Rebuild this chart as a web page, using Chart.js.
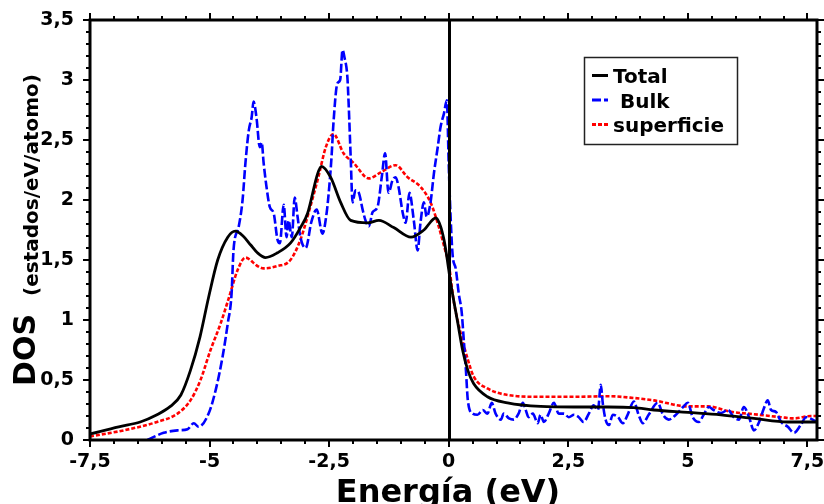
<!DOCTYPE html>
<html>
<head>
<meta charset="utf-8">
<script src="https://cdn.jsdelivr.net/npm/chart.js@4/dist/chart.umd.min.js"></script>
<style>
  html, body { margin: 0; padding: 0; background: #fff; }
  #dos { display: block; }
</style>
</head>
<body>
<canvas id="dos" width="824" height="504"></canvas>
<script>
// energies (eV) and DOS (estados/eV/atomo) for each curve
const energiaTotal = [-7.5, -6.9, -6.45, -6.1, -5.82, -5.6, -5.4, -5.2, -5.02, -4.83, -4.62, -4.46, -4.3, -4.14, -4.0, -3.83, -3.58, -3.31, -3.1, -2.95, -2.74, -2.66, -2.47, -2.26, -2.05, -1.69, -1.46, -1.15, -0.79, -0.52, -0.27, -0.17, -0.1, -0.06, 0.0, 0.04, 0.19, 0.29, 0.4, 0.52, 0.81, 1.23, 1.92, 2.62, 3.33, 3.87, 4.29, 5.0, 5.69, 6.38, 7.09, 7.7];
const dosTotal = [0.05, 0.11, 0.15, 0.21, 0.28, 0.375, 0.58, 0.86, 1.19, 1.5, 1.69, 1.74, 1.7, 1.625, 1.56, 1.52, 1.56, 1.64, 1.77, 1.89, 2.22, 2.28, 2.19, 1.98, 1.83, 1.81, 1.83, 1.77, 1.69, 1.75, 1.85, 1.78, 1.67, 1.58, 1.42, 1.31, 0.975, 0.75, 0.58, 0.47, 0.36, 0.31, 0.28, 0.275, 0.275, 0.27, 0.25, 0.23, 0.21, 0.18, 0.15, 0.15];

const energiaBulk = [-6.3, -5.96, -5.67, -5.46, -5.33, -5.23, -5.02, -4.87, -4.73, -4.62, -4.54, -4.5, -4.39, -4.31, -4.25, -4.18, -4.12, -4.08, -4.02, -3.95, -3.91, -3.87, -3.81, -3.74, -3.66, -3.58, -3.53, -3.45, -3.39, -3.35, -3.28, -3.22, -3.16, -3.1, -2.99, -2.87, -2.76, -2.64, -2.55, -2.5, -2.45, -2.41, -2.33, -2.27, -2.22, -2.18, -2.12, -2.09, -2.05, -2.01, -1.95, -1.88, -1.8, -1.74, -1.67, -1.59, -1.49, -1.4, -1.33, -1.26, -1.17, -1.11, -1.05, -0.96, -0.9, -0.82, -0.73, -0.65, -0.59, -0.52, -0.46, -0.38, -0.31, -0.23, -0.17, -0.1, -0.04, 0.0, 0.03, 0.08, 0.15, 0.21, 0.27, 0.31, 0.36, 0.4, 0.5, 0.6, 0.71, 0.81, 0.9, 0.98, 1.09, 1.15, 1.26, 1.36, 1.46, 1.55, 1.61, 1.67, 1.76, 1.86, 1.92, 1.99, 2.09, 2.2, 2.3, 2.41, 2.51, 2.62, 2.72, 2.82, 2.93, 3.03, 3.12, 3.18, 3.22, 3.28, 3.35, 3.43, 3.54, 3.64, 3.74, 3.87, 3.97, 4.06, 4.18, 4.37, 4.48, 4.6, 4.75, 4.9, 5.0, 5.1, 5.23, 5.33, 5.44, 5.54, 5.69, 5.84, 5.96, 6.07, 6.17, 6.28, 6.38, 6.49, 6.59, 6.67, 6.74, 6.84, 6.95, 7.09, 7.22, 7.36, 7.47, 7.61, 7.7];
const dosBulk = [0.0, 0.06, 0.08, 0.09, 0.14, 0.11, 0.22, 0.42, 0.69, 0.97, 1.22, 1.58, 1.78, 2.0, 2.31, 2.58, 2.69, 2.82, 2.69, 2.44, 2.48, 2.31, 2.11, 1.94, 1.89, 1.67, 1.64, 1.96, 1.69, 1.83, 1.69, 2.02, 1.86, 1.69, 1.6, 1.82, 1.92, 1.72, 1.9, 2.1, 2.36, 2.64, 2.97, 3.0, 3.25, 3.19, 3.03, 2.78, 2.36, 1.98, 2.08, 2.06, 1.92, 1.83, 1.78, 1.9, 1.94, 2.19, 2.39, 2.06, 2.17, 2.19, 2.11, 1.89, 1.81, 2.06, 1.83, 1.58, 1.81, 1.98, 1.86, 1.98, 2.22, 2.44, 2.61, 2.72, 2.83, 2.3, 1.95, 1.55, 1.42, 1.22, 1.07, 0.86, 0.58, 0.33, 0.22, 0.21, 0.25, 0.22, 0.31, 0.22, 0.17, 0.22, 0.18, 0.17, 0.22, 0.31, 0.25, 0.19, 0.22, 0.14, 0.21, 0.15, 0.22, 0.31, 0.22, 0.22, 0.19, 0.21, 0.19, 0.15, 0.22, 0.29, 0.25, 0.46, 0.31, 0.17, 0.125, 0.21, 0.19, 0.14, 0.21, 0.32, 0.21, 0.14, 0.21, 0.31, 0.21, 0.17, 0.21, 0.275, 0.31, 0.19, 0.15, 0.21, 0.275, 0.25, 0.225, 0.25, 0.19, 0.17, 0.275, 0.19, 0.08, 0.15, 0.265, 0.33, 0.25, 0.235, 0.15, 0.11, 0.06, 0.125, 0.19, 0.17, 0.15];

const energiaSup = [-7.5, -6.8, -6.1, -5.67, -5.4, -5.19, -4.98, -4.77, -4.6, -4.41, -4.25, -4.0, -3.87, -3.58, -3.31, -3.1, -2.89, -2.72, -2.57, -2.41, -2.2, -1.99, -1.67, -1.42, -1.11, -0.86, -0.59, -0.38, -0.21, -0.06, 0.0, 0.1, 0.25, 0.4, 0.52, 0.81, 1.23, 1.92, 2.62, 3.33, 3.87, 4.29, 5.0, 5.42, 5.9, 6.38, 6.95, 7.22, 7.57, 7.7];
const dosSup = [0.03, 0.08, 0.15, 0.22, 0.33, 0.5, 0.75, 0.97, 1.18, 1.42, 1.52, 1.45, 1.43, 1.45, 1.5, 1.67, 1.95, 2.2, 2.44, 2.55, 2.39, 2.31, 2.18, 2.23, 2.29, 2.19, 2.11, 1.98, 1.78, 1.56, 1.47, 1.17, 0.89, 0.67, 0.53, 0.43, 0.375, 0.36, 0.36, 0.365, 0.35, 0.33, 0.28, 0.28, 0.235, 0.215, 0.19, 0.18, 0.2, 0.2];

const xTickValues = [-7.5, -5, -2.5, 0, 2.5, 5, 7.5];
const yTickValues = [0, 0.5, 1, 1.5, 2, 2.5, 3, 3.5];

const FONT = '"DejaVu Sans", sans-serif';

function pts(xs, ys) {
  return xs.map((x, i) => ({ x: x, y: ys[i] }));
}

function coma(v) {
  return String(v).replace('.', ',');
}

// box, minor/major tick marks, zero line, axis titles and legend
const decor = {
  id: 'decor',
  afterDatasetsDraw(chart) {
    const ctx = chart.ctx;
    const a = chart.chartArea;
    const xs = chart.scales.x, ys = chart.scales.y;
    ctx.save();
    ctx.strokeStyle = '#000';

    // line at E = 0
    ctx.lineWidth = 3;
    const x0 = Math.round(xs.getPixelForValue(0)) + 0.5;
    ctx.beginPath();
    ctx.moveTo(x0, a.top);
    ctx.lineTo(x0, a.bottom);
    ctx.stroke();

    // frame
    ctx.strokeRect(a.left, a.top, a.right - a.left, a.bottom - a.top);

    // ticks on all four sides, pointing out
    ctx.lineWidth = 2;
    ctx.beginPath();
    for (let i = 0; i <= 35; i++) {
      const p = Math.round(ys.getPixelForValue(i / 10));
      const len = (i % 5 === 0) ? 7 : 4;
      ctx.moveTo(a.left, p); ctx.lineTo(a.left - len, p);
      ctx.moveTo(a.right, p); ctx.lineTo(a.right + len, p);
    }
    for (let i = -15; i <= 15; i++) {
      const p = Math.round(xs.getPixelForValue(i / 2));
      const len = (i % 5 === 0) ? 7 : 4;
      ctx.moveTo(p, a.bottom); ctx.lineTo(p, a.bottom + len);
      ctx.moveTo(p, a.top); ctx.lineTo(p, a.top - len);
    }
    ctx.stroke();

    // axis titles
    ctx.fillStyle = '#000';
    ctx.textAlign = 'center';
    ctx.textBaseline = 'alphabetic';
    ctx.font = 'bold 32px ' + FONT;
    ctx.fillText('Energía (eV)', 448, 502);

    ctx.save();
    ctx.translate(35, 350);
    ctx.rotate(-Math.PI / 2);
    ctx.font = 'bold 30px ' + FONT;
    ctx.fillText('DOS', 0, 0);
    ctx.restore();

    ctx.save();
    ctx.translate(38, 185);
    ctx.rotate(-Math.PI / 2);
    ctx.font = 'bold 20px ' + FONT;
    ctx.fillText('(estados/eV/atomo)', 0, 0);
    ctx.restore();

    // legend
    const bx = 584.5, by = 57.5, bw = 153, bh = 87;
    ctx.fillStyle = '#fff';
    ctx.fillRect(bx, by, bw, bh);
    ctx.lineWidth = 1.5;
    ctx.strokeStyle = '#222';
    ctx.strokeRect(bx, by, bw, bh);
    ctx.font = 'bold 20px ' + FONT;
    ctx.textAlign = 'left';
    chart.data.datasets.forEach((ds, i) => {
      const base = 83 + i * 24.5;
      const ly = base - 7.5;
      ctx.strokeStyle = ds.borderColor;
      ctx.lineWidth = 3;
      ctx.setLineDash(ds.borderDash || []);
      ctx.beginPath();
      ctx.moveTo(592, ly);
      ctx.lineTo(608, ly);
      ctx.stroke();
      ctx.setLineDash([]);
      ctx.fillStyle = '#000';
      ctx.fillText(ds.label, 613, base);
    });
    ctx.restore();
  }
};

new Chart(document.getElementById('dos'), {
  type: 'line',
  data: {
    datasets: [
      {
        label: 'Total',
        data: pts(energiaTotal, dosTotal),
        borderColor: '#000000',
        borderWidth: 2.8,
        cubicInterpolationMode: 'monotone'
      },
      {
        label: ' Bulk',
        data: pts(energiaBulk, dosBulk),
        borderColor: '#0000ff',
        borderWidth: 2.6,
        borderDash: [9, 3],
        cubicInterpolationMode: 'monotone'
      },
      {
        label: 'superficie',
        data: pts(energiaSup, dosSup),
        borderColor: '#ff0000',
        borderWidth: 2.6,
        borderDash: [4, 2],
        cubicInterpolationMode: 'monotone'
      }
    ]
  },
  options: {
    responsive: false,
    devicePixelRatio: 1,
    animation: false,
    elements: { point: { radius: 0 } },
    layout: { padding: { top: 20, right: 7, left: 0, bottom: 0 } },
    plugins: { legend: { display: false }, tooltip: { enabled: false } },
    scales: {
      x: {
        type: 'linear',
        min: -7.5,
        max: 7.7,
        grid: { display: false },
        border: { display: false },
        afterBuildTicks: s => { s.ticks = xTickValues.map(v => ({ value: v })); },
        afterFit: s => { s.height = 64; s.paddingLeft = 0; s.paddingRight = 0; },
        ticks: {
          color: '#000',
          padding: 3,
          maxRotation: 0,
          font: { family: FONT, size: 19, weight: 'bold' },
          callback: v => coma(v)
        }
      },
      y: {
        min: 0,
        max: 3.5,
        grid: { display: false },
        border: { display: false },
        afterBuildTicks: s => { s.ticks = yTickValues.map(v => ({ value: v })); },
        afterFit: s => { s.width = 90; s.paddingTop = 0; s.paddingBottom = 0; },
        ticks: {
          color: '#000',
          padding: 8,
          font: { family: FONT, size: 19, weight: 'bold' },
          callback: v => coma(v)
        }
      }
    }
  },
  plugins: [decor]
});
</script>
</body>
</html>
